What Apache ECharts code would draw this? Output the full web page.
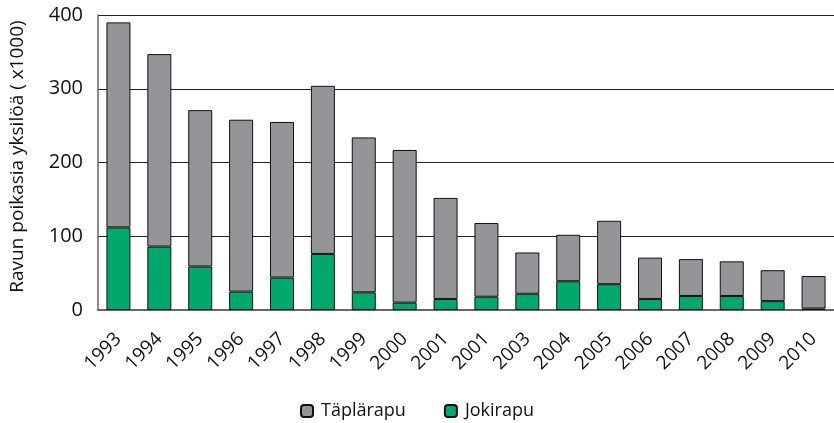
<!DOCTYPE html>
<html><head><meta charset="utf-8">
<script src="https://cdn.jsdelivr.net/npm/echarts@6/dist/echarts.min.js"></script>
<style>html,body{margin:0;padding:0;background:#fff}#c{width:834px;height:423px}</style>
</head><body><div id="c"></div>
<script>
var categories = ['1993','1994','1995','1996','1997','1998','1999','2000','2001','2001','2003','2004','2005','2006','2007','2008','2009','2010'];
var jokirapu = [112, 86, 59, 25, 44, 76, 24, 10, 15, 18, 22, 39, 35, 15, 19, 19, 12, 2];
var taplarapu = [278, 261, 212, 233, 211, 228, 210, 207, 137, 100, 56, 63, 86, 56, 50, 47, 42, 44];
var yTicks = [0, 100, 200, 300, 400];
var yTitle = 'Ravun poikasia yksilöä ( x1000)';

var font = '"Open Sans", "Noto Sans", sans-serif';
var chart = echarts.init(document.getElementById('c'), null, {renderer: 'canvas'});
chart.setOption({
  animation: false,
  textStyle: {fontFamily: font},
  grid: {left: 97, right: -6, top: 15, bottom: 113, containLabel: false},
  legend: {
    bottom: -2, left: 'center', itemWidth: 12, itemHeight: 12, itemGap: 38,
    textStyle: {fontSize: 18, color: '#111', fontFamily: font, padding: [0, 0, 0, 3]},
    data: ['Täplärapu', 'Jokirapu']
  },
  xAxis: {
    type: 'category', data: categories,
    axisLine: {lineStyle: {color: '#666', width: 2}},
    axisTick: {show: false},
    axisLabel: {rotate: 45, fontSize: 19, color: '#111', margin: 26, interval: 0, fontFamily: font}
  },
  yAxis: {
    type: 'value', min: yTicks[0], max: yTicks[yTicks.length - 1], interval: 100,
    name: yTitle, nameLocation: 'middle', nameGap: 71, nameRotate: 90,
    nameTextStyle: {fontSize: 19, color: '#111', fontFamily: font, padding: [0, 0, 0, 12]},
    axisLine: {show: true, lineStyle: {color: '#666', width: 1.5}},
    axisTick: {show: false},
    axisLabel: {fontSize: 20, color: '#111', margin: 15, fontFamily: font},
    splitLine: {lineStyle: {color: '#222', width: 1}}
  },
  series: [
    {name: 'Jokirapu', type: 'bar', stack: 'a', data: jokirapu, barWidth: 24,
     itemStyle: {color: '#00a96b', borderColor: '#111', borderWidth: 1}},
    {name: 'Täplärapu', type: 'bar', stack: 'a', data: taplarapu, barWidth: 24,
     itemStyle: {color: '#939598', borderColor: '#111', borderWidth: 1}}
  ]
});
</script></body></html>
